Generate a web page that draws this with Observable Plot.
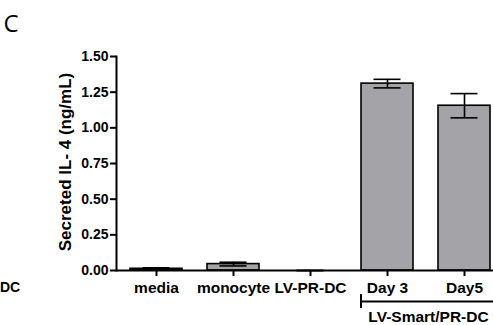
<!DOCTYPE html>
<html><head><meta charset="utf-8">
<script src="https://cdn.jsdelivr.net/npm/d3@7"></script>
<script src="https://cdn.jsdelivr.net/npm/@observablehq/plot@0.6"></script>
<style>body{margin:0;background:#fff} #chart svg{font-family:"Liberation Sans",Arial,sans-serif;display:block}</style>
</head><body><div id="chart"></div>
<script>
const categories = ["media", "monocyte", "LV-PR-DC", "Day 3", "Day5"];
const means = [0.012, 0.045, 0, 1.31, 1.155];
const errors = [0.007, 0.013, 0, 0.03, 0.085];
const yTicks = [0, 0.25, 0.5, 0.75, 1, 1.25, 1.5];
const groupLabel = "LV-Smart/PR-DC";
const groupMembers = ["Day 3", "Day5"];
const yLabel = "Secreted IL- 4 (ng/mL)";
const panelLetter = "C";
const neighbourFragment = "DC";

const data = categories.map((c, i) => ({cat: c, mean: means[i], lo: means[i] - errors[i], hi: means[i] + errors[i]}));
const font = "'Liberation Sans', Arial, sans-serif";

const plot = Plot.plot({
  width: 493, height: 325,
  marginLeft: 116, marginRight: 0, marginTop: 56, marginBottom: 55,
  style: {fontFamily: font, background: "white", overflow: "visible", color: "black"},
  x: {domain: categories, range: [116, 504], paddingInner: 0.33, paddingOuter: 0.165},
  y: {domain: [0, 1.5]},
  marks: [
    Plot.barY(data, {x: "cat", y: "mean", fill: "#a3a3a8", stroke: "black", strokeWidth: 1.6}),
    Plot.ruleX(data, {x: "cat", y1: "lo", y2: "hi", stroke: "black", strokeWidth: 1.6}),
    Plot.tickY(data, {x: "cat", y: "hi", stroke: "black", strokeWidth: 1.6, insetLeft: 12.5, insetRight: 12.5}),
    Plot.tickY(data, {x: "cat", y: "lo", stroke: "black", strokeWidth: 1.6, insetLeft: 12.5, insetRight: 12.5}),
    Plot.ruleY([0], {stroke: "black", strokeWidth: 2}),
    Plot.frame({anchor: "left", stroke: "black", strokeWidth: 2}),
    Plot.axisY({ticks: yTicks, tickFormat: d => d.toFixed(2), tickSize: 6, tickPadding: 2, fontSize: 14, fontWeight: "bold", strokeWidth: 2, label: null}),
    Plot.axisX({tickSize: 6, tickPadding: 5, fontSize: 15.5, fontWeight: "bold", strokeWidth: 2, label: null}),
    Plot.text([yLabel], {frameAnchor: "left", textAnchor: "middle", lineAnchor: "middle", rotate: -90, dx: -51, dy: -1.5, fontSize: 17, fontWeight: "bold", fill: "black"})
  ]
});

document.getElementById("chart").appendChild(plot);

// group bracket under Day 3 / Day5, positioned from the x scale
const xs = plot.scale("x");
const gx0 = xs.apply(groupMembers[0]);
const gx1 = xs.apply(groupMembers[groupMembers.length - 1]) + xs.bandwidth;
const svg = d3.select(plot);
const g = svg.append("g").attr("stroke", "black").attr("stroke-width", 2);
g.append("line").attr("x1", gx0).attr("x2", 493).attr("y1", 301.5).attr("y2", 301.5);
g.append("line").attr("x1", gx0).attr("x2", gx0).attr("y1", 294).attr("y2", 308);
svg.append("text").attr("x", (gx0 + gx1) / 2 + 3).attr("y", 321.5)
  .attr("text-anchor", "middle").attr("font-size", 15.5).attr("font-weight", "bold")
  .attr("font-family", font).attr("fill", "black").text(groupLabel);

// panel letter and cut-off label of the neighbouring panel
svg.append("text").attr("x", 11).attr("y", 32).attr("font-size", 24)
  .attr("font-family", "'Open Sans', sans-serif").attr("fill", "black").text(panelLetter);
svg.append("text").attr("x", 0).attr("y", 292).attr("text-anchor", "start")
  .attr("font-size", 14).attr("font-weight", "bold").attr("font-family", font)
  .attr("fill", "black").text(neighbourFragment);
</script>
</body></html>
